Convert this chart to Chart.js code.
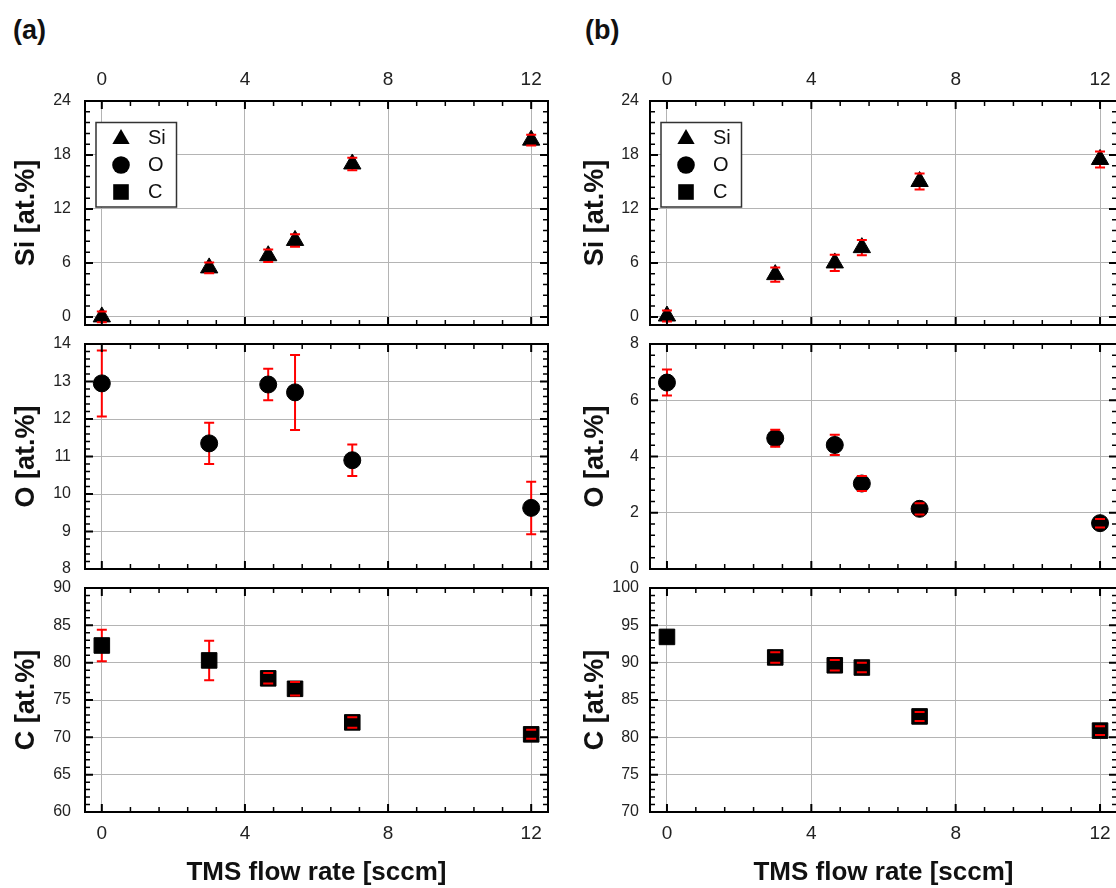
<!DOCTYPE html>
<html>
<head>
<meta charset="utf-8">
<script src="https://cdn.jsdelivr.net/npm/chart.js@4.4.0/dist/chart.umd.min.js"></script>
<style>
body{margin:0;background:#fff;width:1116px;height:888px;overflow:hidden;position:relative;font-family:'Liberation Sans',Arial,sans-serif;}
canvas{position:absolute;}
.tag{position:absolute;font-weight:bold;font-size:27px;color:#111;}
</style>
</head>
<body>
<div class="tag" style="left:13px;top:15px">(a)</div>
<div class="tag" style="left:585px;top:15px">(b)</div>
<canvas id="siA" width="560" height="290" style="left:0;top:50px"></canvas>
<canvas id="oA" width="560" height="254" style="left:0;top:330px"></canvas>
<canvas id="cA" width="560" height="314" style="left:0;top:574px"></canvas>
<!-- (b) runs past the right edge of the page, like the cropped original -->
<canvas id="siB" width="580" height="290" style="left:560px;top:50px"></canvas>
<canvas id="oB" width="580" height="254" style="left:560px;top:330px"></canvas>
<canvas id="cB" width="580" height="314" style="left:560px;top:574px"></canvas>
<script>
// TMS flow rate (sccm), same for every panel
const flowRate = [0, 3, 4.65, 5.4, 7, 12];
const flowTicks = [0, 4, 8, 12];

// (a)
const siA = [0.0, 5.45, 6.8, 8.5, 17.0, 19.65];
const siErrA = [0.6, 0.6, 0.7, 0.7, 0.7, 0.6];
const oA = [12.95, 11.35, 12.92, 12.71, 10.9, 9.63];
const oErrA = [0.88, 0.55, 0.42, 1.0, 0.42, 0.7];
const cA = [82.3, 80.3, 77.9, 76.5, 72.0, 70.4];
const cErrA = [2.1, 2.65, 0.7, 0.9, 0.7, 0.6];

// (b)
const siB = [0.1, 4.7, 6.0, 7.7, 15.05, 17.5];
const siErrB = [0.6, 0.8, 0.9, 0.85, 0.9, 0.9];
const oB = [6.63, 4.65, 4.41, 3.04, 2.14, 1.63];
const oErrB = [0.46, 0.3, 0.36, 0.27, 0.2, 0.15];
const cB = [93.45, 90.7, 89.65, 89.35, 82.8, 80.9];
const cErrB = [0, 0.7, 0.7, 0.65, 0.6, 0.6];

const siTicks = [0, 6, 12, 18, 24];
const oTicksA = [8, 9, 10, 11, 12, 13, 14];
const cTicksA = [60, 65, 70, 75, 80, 85, 90];
const oTicksB = [0, 2, 4, 6, 8];
const cTicksB = [70, 75, 80, 85, 90, 95, 100];

const legendNames = ['Si', 'O', 'C'];
const legendShapes = ['triangle', 'circle', 'rect'];

const FONT = "'Liberation Sans', Arial, sans-serif";
const gridColor = '#b4b4b4';

function shape(ctx, type, x, y, r) {
    ctx.beginPath();
    if (type === 'triangle') {
        for (let k = 0; k < 3; k++) {
            const a = -Math.PI / 2 + k * 2 * Math.PI / 3;
            if (k === 0) ctx.moveTo(x + r * Math.cos(a), y + r * Math.sin(a));
            else ctx.lineTo(x + r * Math.cos(a), y + r * Math.sin(a));
        }
        ctx.closePath();
    } else if (type === 'circle') {
        ctx.arc(x, y, r * 0.88, 0, Math.PI * 2);
    } else {
        const s = r * 0.78;
        ctx.rect(x - s, y - s, 2 * s, 2 * s);
    }
    ctx.fill();
}

// box with inward major/minor ticks on all four sides
const framePlugin = {
    id: 'frame',
    afterDraw(chart, args, opts) {
        const ctx = chart.ctx, a = chart.chartArea;
        const xs = chart.scales.x, ys = chart.scales.y;
        const near = (v, list) => list.some(t => Math.abs(t - v) < 1e-6);
        ctx.save();
        ctx.strokeStyle = '#000';
        const xMaj = xs.ticks.map(t => t.value), yMaj = ys.ticks.map(t => t.value);
        for (let v = Math.ceil(xs.min / opts.xMinor) * opts.xMinor; v <= xs.max; v += opts.xMinor) {
            const vv = Math.round(v * 1000) / 1000;
            const major = near(vv, xMaj), len = major ? 8 : 5;
            const px = xs.getPixelForValue(vv);
            ctx.lineWidth = major ? 2 : 1.5;
            ctx.beginPath();
            ctx.moveTo(px, a.bottom); ctx.lineTo(px, a.bottom - len);
            ctx.moveTo(px, a.top); ctx.lineTo(px, a.top + len);
            ctx.stroke();
        }
        for (let v = Math.ceil(ys.min / opts.yMinor) * opts.yMinor; v <= ys.max + 1e-6; v += opts.yMinor) {
            const vv = Math.round(v * 1000) / 1000;
            const major = near(vv, yMaj), len = major ? 8 : 5;
            const py = ys.getPixelForValue(vv);
            ctx.lineWidth = major ? 2 : 1.5;
            ctx.beginPath();
            ctx.moveTo(a.left, py); ctx.lineTo(a.left + len, py);
            ctx.moveTo(a.right, py); ctx.lineTo(a.right - len, py);
            ctx.stroke();
        }
        ctx.lineWidth = 2;
        ctx.strokeRect(a.left, a.top, a.right - a.left, a.bottom - a.top);
        ctx.restore();
    }
};

function drawErr(chart, caps) {
    const ctx = chart.ctx, xs = chart.scales.x, ys = chart.scales.y;
    chart.data.datasets.forEach(ds => {
        const errs = ds.errorBars || [];
        ctx.save();
        ctx.strokeStyle = '#ff0000';
        ctx.lineWidth = 2;
        ds.data.forEach((p, i) => {
            const e = errs[i];
            if (!e) return;
            const px = xs.getPixelForValue(p.x);
            const top = ys.getPixelForValue(p.y + e), bot = ys.getPixelForValue(p.y - e);
            ctx.beginPath();
            if (caps) {
                ctx.moveTo(px - 5, top); ctx.lineTo(px + 5, top);
                ctx.moveTo(px - 5, bot); ctx.lineTo(px + 5, bot);
            } else {
                ctx.moveTo(px, top); ctx.lineTo(px, bot);
            }
            ctx.stroke();
        });
        ctx.restore();
    });
}

const errorBarPlugin = {
    id: 'errorBars',
    beforeDatasetsDraw(chart) { drawErr(chart, false); },
    afterDatasetsDraw(chart) { drawErr(chart, true); }
};

// element legend in the top panels
const elemLegendPlugin = {
    id: 'elemLegend',
    afterDraw(chart, args, opts) {
        if (!opts.show) return;
        const ctx = chart.ctx, a = chart.chartArea;
        const bx = a.left + 11, by = a.top + 21.5, bw = 80.5, bh = 84.5;
        ctx.save();
        ctx.fillStyle = '#fff';
        ctx.fillRect(bx, by, bw, bh);
        ctx.strokeStyle = '#333';
        ctx.lineWidth = 1.5;
        ctx.strokeRect(bx, by, bw, bh);
        ctx.font = '20px ' + FONT;
        ctx.textBaseline = 'middle';
        for (let i = 0; i < legendNames.length; i++) {
            const y = by + 15.5 + i * 27;
            ctx.fillStyle = '#000';
            shape(ctx, legendShapes[i], bx + 25, y + (i === 0 ? 1 : 0), 10);
            ctx.fillStyle = '#111';
            ctx.fillText(legendNames[i], bx + 52, y);
        }
        ctx.restore();
    }
};

// the frame is set by the canvas padding, not by label overflow
function noOverflow(s) {
    s.paddingTop = 0; s.paddingBottom = 0;
    s.paddingLeft = 0; s.paddingRight = 0;
}

function makePanel(id, cfg) {
    const pts = flowRate.map((x, i) => ({x: x, y: cfg.values[i]}));
    return new Chart(document.getElementById(id), {
        type: 'scatter',
        data: {
            datasets: [{
                label: cfg.name,
                data: pts,
                errorBars: cfg.errors,
                pointStyle: cfg.shape,
                pointRadius: cfg.radius,
                pointBackgroundColor: '#000',
                pointBorderColor: '#000',
                pointBorderWidth: 1,
                clip: false
            }]
        },
        options: {
            responsive: false,
            animation: false,
            events: [],
            layout: {padding: cfg.pad},
            plugins: {
                legend: {display: false},
                tooltip: {enabled: false},
                frame: {xMinor: 0.8, yMinor: cfg.yMinor},
                elemLegend: {show: !!cfg.legend}
            },
            scales: {
                x: {
                    type: 'linear',
                    position: cfg.xPos,
                    min: -0.47,
                    max: 12.47,
                    afterBuildTicks: s => { s.ticks = flowTicks.map(v => ({value: v})); },
                    afterFit: s => { s.height = cfg.xHeight; noOverflow(s); },
                    ticks: {display: cfg.xLabels, color: '#222', font: {family: FONT, size: 19}, padding: 10},
                    grid: {color: gridColor, lineWidth: 1, drawTicks: false},
                    border: {display: false},
                    title: {
                        display: !!cfg.xTitle,
                        text: 'TMS flow rate [sccm]',
                        color: '#111',
                        font: {family: FONT, size: 26, weight: 'bold'},
                        padding: {top: 0, bottom: 0}
                    }
                },
                y: {
                    type: 'linear',
                    min: cfg.yMin,
                    max: cfg.yMax,
                    afterBuildTicks: s => { s.ticks = cfg.yTicks.map(v => ({value: v})); },
                    afterFit: s => { s.width = cfg.yWidth; noOverflow(s); },
                    ticks: {color: '#222', font: {family: FONT, size: 16}, padding: cfg.yPad},
                    grid: {color: gridColor, lineWidth: 1, drawTicks: false},
                    border: {display: false},
                    title: {
                        display: true,
                        text: cfg.yTitle,
                        color: '#111',
                        font: {family: FONT, size: 27, weight: 'bold'},
                        padding: {top: cfg.titlePad, bottom: 0}
                    }
                }
            }
        },
        plugins: [framePlugin, errorBarPlugin, elemLegendPlugin]
    });
}

const colA = {yWidth: 85, yPad: 14, titlePad: 10, right: 12};
const colB = {yWidth: 90, yPad: 11, titlePad: 19, right: 23};

[[colA, 'A', siA, siErrA, oA, oErrA, cA, cErrA, oTicksA, 8, 14, 0.2, cTicksA, 60, 90],
 [colB, 'B', siB, siErrB, oB, oErrB, cB, cErrB, oTicksB, 0, 8, 0.4, cTicksB, 70, 100]].forEach(c => {
    const col = c[0], tag = c[1];
    makePanel('si' + tag, {
        name: 'Si', values: c[2], errors: c[3], shape: 'triangle', radius: 10, legend: true,
        xPos: 'top', xHeight: 51, xLabels: true,
        yMin: -0.9, yMax: 24, yTicks: siTicks, yMinor: 1.2, yTitle: 'Si [at.%]',
        yWidth: col.yWidth, yPad: col.yPad, titlePad: col.titlePad,
        pad: {top: 0, bottom: 15, left: 0, right: col.right}
    });
    makePanel('o' + tag, {
        name: 'O', values: c[4], errors: c[5], shape: 'circle', radius: 8.5,
        xPos: 'bottom', xHeight: 0, xLabels: false,
        yMin: c[9], yMax: c[10], yTicks: c[8], yMinor: c[11], yTitle: 'O [at.%]',
        yWidth: col.yWidth, yPad: col.yPad, titlePad: col.titlePad,
        pad: {top: 14, bottom: 15, left: 0, right: col.right}
    });
    makePanel('c' + tag, {
        name: 'C', values: c[6], errors: c[7], shape: 'rect', radius: 11,
        xPos: 'bottom', xHeight: 76, xLabels: true, xTitle: true,
        yMin: c[13], yMax: c[14], yTicks: c[12], yMinor: 1, yTitle: 'C [at.%]',
        yWidth: col.yWidth, yPad: col.yPad, titlePad: col.titlePad,
        pad: {top: 14, bottom: 0, left: 0, right: col.right}
    });
});
</script>
</body>
</html>
